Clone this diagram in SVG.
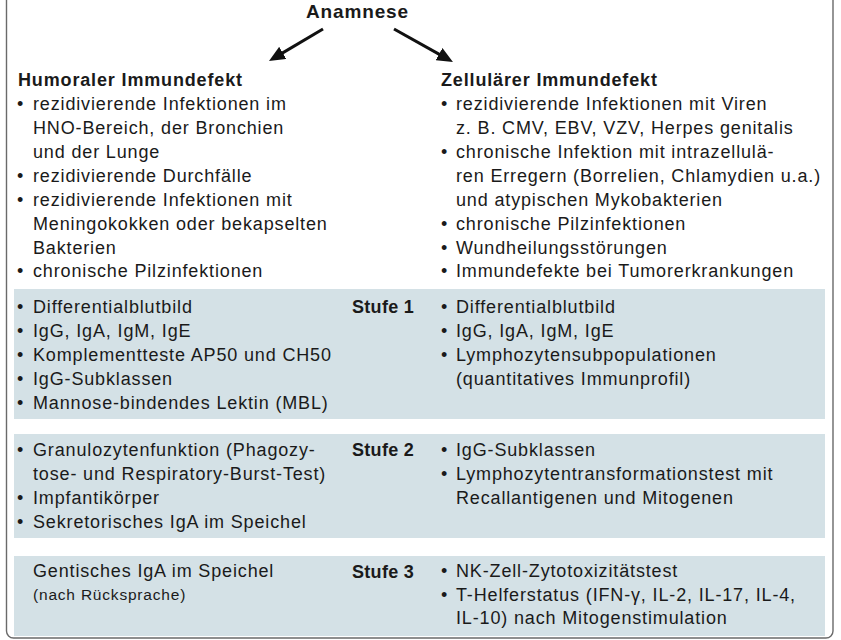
<svg xmlns="http://www.w3.org/2000/svg" width="841" height="640" viewBox="0 0 841 640">
<defs>
<style>
.t{font-family:"Liberation Sans",Arial,sans-serif;font-size:18px;letter-spacing:0.85px;fill:#1a1a1a}
.h{font-weight:bold}
.st{font-weight:bold;letter-spacing:0.3px}
.s{font-size:15.5px;letter-spacing:0.8px}
.band{fill:#d4e1e6}
.conn{stroke:#111;stroke-width:3;fill:none}
</style>
<marker id="ah" viewBox="0 0 16 14" refX="4" refY="7" markerWidth="16" markerHeight="14" markerUnits="userSpaceOnUse" orient="auto">
<path d="M0,0 L16,7 L0,14 z" fill="#111"/>
</marker>
</defs>
<rect x="0" y="0" width="841" height="640" fill="#fff"/>
<rect id="frame" x="6.5" y="-8" width="826.5" height="646" rx="7" fill="none" stroke="#6a6a6a" stroke-width="1.4"/>

<g id="anamnese">
<text class="t h" x="306" y="18" style="font-size:19px">Anamnese</text>
</g>

<g id="connectors">
<line class="conn" x1="323" y1="29" x2="279.3" y2="54.9" marker-end="url(#ah)"/>
<line class="conn" x1="394" y1="29" x2="442.5" y2="56.1" marker-end="url(#ah)"/>
</g>

<g id="humoral">
<text class="t h" x="18" y="86">Humoraler Immundefekt</text>
<text class="t" y="110"><tspan x="17">•</tspan><tspan x="33">rezidivierende Infektionen im</tspan></text>
<text class="t" x="33" y="134">HNO-Bereich, der Bronchien</text>
<text class="t" x="33" y="158">und der Lunge</text>
<text class="t" y="182"><tspan x="17">•</tspan><tspan x="33">rezidivierende Durchfälle</tspan></text>
<text class="t" y="206"><tspan x="17">•</tspan><tspan x="33">rezidivierende Infektionen mit</tspan></text>
<text class="t" x="33" y="230">Meningokokken oder bekapselten</text>
<text class="t" x="33" y="254">Bakterien</text>
<text class="t" y="277"><tspan x="17">•</tspan><tspan x="33">chronische Pilzinfektionen</tspan></text>
</g>

<g id="zellulaer">
<text class="t h" x="441" y="86">Zellulärer Immundefekt</text>
<text class="t" y="110"><tspan x="441">•</tspan><tspan x="456">rezidivierende Infektionen mit Viren</tspan></text>
<text class="t" x="456" y="134">z. B. CMV, EBV, VZV, Herpes genitalis</text>
<text class="t" y="158"><tspan x="441">•</tspan><tspan x="456">chronische Infektion mit intrazellulä-</tspan></text>
<text class="t" x="456" y="182">ren Erregern (Borrelien, Chlamydien u.a.)</text>
<text class="t" x="456" y="206">und atypischen Mykobakterien</text>
<text class="t" y="230"><tspan x="441">•</tspan><tspan x="456">chronische Pilzinfektionen</tspan></text>
<text class="t" y="254"><tspan x="441">•</tspan><tspan x="456">Wundheilungsstörungen</tspan></text>
<text class="t" y="277"><tspan x="441">•</tspan><tspan x="456">Immundefekte bei Tumorerkrankungen</tspan></text>
</g>

<g id="stufe1">
<rect class="band" x="14" y="289" width="811" height="130"/>
<text class="t" y="313"><tspan x="17">•</tspan><tspan x="33">Differentialblutbild</tspan></text>
<text class="t" y="337"><tspan x="17">•</tspan><tspan x="33">IgG, IgA, IgM, IgE</tspan></text>
<text class="t" y="361"><tspan x="17">•</tspan><tspan x="33">Komplementteste AP50 und CH50</tspan></text>
<text class="t" y="385"><tspan x="17">•</tspan><tspan x="33">IgG-Subklassen</tspan></text>
<text class="t" y="409"><tspan x="17">•</tspan><tspan x="33">Mannose-bindendes Lektin (MBL)</tspan></text>
<text class="t st" x="352" y="313">Stufe 1</text>
<text class="t" y="313"><tspan x="441">•</tspan><tspan x="456">Differentialblutbild</tspan></text>
<text class="t" y="337"><tspan x="441">•</tspan><tspan x="456">IgG, IgA, IgM, IgE</tspan></text>
<text class="t" y="361"><tspan x="441">•</tspan><tspan x="456">Lymphozytensubpopulationen</tspan></text>
<text class="t" x="456" y="385">(quantitatives Immunprofil)</text>
</g>

<g id="stufe2">
<rect class="band" x="14" y="434" width="811" height="104"/>
<text class="t" y="456"><tspan x="17">•</tspan><tspan x="33">Granulozytenfunktion (Phagozy-</tspan></text>
<text class="t" x="33" y="480">tose- und Respiratory-Burst-Test)</text>
<text class="t" y="504"><tspan x="17">•</tspan><tspan x="33">Impfantikörper</tspan></text>
<text class="t" y="528"><tspan x="17">•</tspan><tspan x="33">Sekretorisches IgA im Speichel</tspan></text>
<text class="t st" x="352" y="456">Stufe 2</text>
<text class="t" y="456"><tspan x="441">•</tspan><tspan x="456">IgG-Subklassen</tspan></text>
<text class="t" y="480"><tspan x="441">•</tspan><tspan x="456">Lymphozytentransformationstest mit</tspan></text>
<text class="t" x="456" y="504">Recallantigenen und Mitogenen</text>
</g>

<g id="stufe3">
<rect class="band" x="14" y="556" width="811" height="80"/>
<text class="t" x="33" y="577">Gentisches IgA im Speichel</text>
<text class="t s" x="33" y="600">(nach Rücksprache)</text>
<text class="t st" x="352" y="578">Stufe 3</text>
<text class="t" y="577"><tspan x="441">•</tspan><tspan x="456">NK-Zell-Zytotoxizitätstest</tspan></text>
<text class="t" y="601"><tspan x="441">•</tspan><tspan x="456">T-Helferstatus (IFN-γ, IL-2, IL-17, IL-4,</tspan></text>
<text class="t" x="456" y="624">IL-10) nach Mitogenstimulation</text>
</g>
</svg>
